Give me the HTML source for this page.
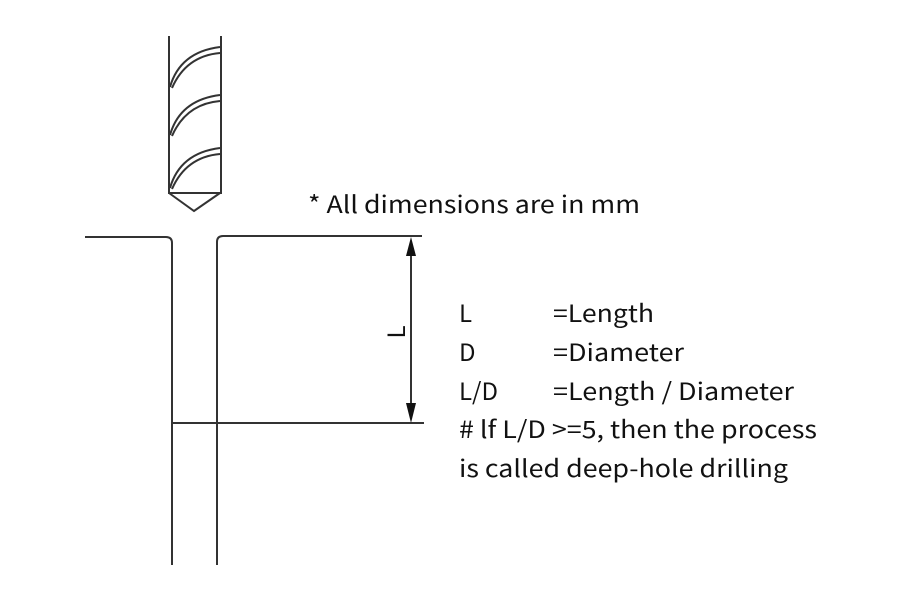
<!DOCTYPE html>
<html><head><meta charset="utf-8"><style>html,body{margin:0;padding:0;background:#fff}svg{display:block}</style></head>
<body>
<svg width="900" height="600" viewBox="0 0 900 600" xmlns="http://www.w3.org/2000/svg">
<g fill="none" stroke="#333" stroke-width="2">
<path d="M169,36 V193 H221 V36"/>
<path d="M169,193 L194,211 L220,193"/>
<g id="f"><path d="M170,87 Q180,52 220,47"/><path d="M172,88 Q186,56 220,53"/></g>
<use href="#f" transform="translate(0,48)"/>
<use href="#f" transform="translate(0,101)"/>
<path d="M85,237 H166 Q172,237 172,243 V565"/>
<path d="M217,565 V242 Q217,236 223,236 H422"/>
<path d="M172,423 H424"/>
<path d="M411,250 V410"/>
</g>
<path d="M411,237 L406,256 H416 Z M411,423 L406,403 H416 Z" fill="#111"/>
<g font-family="'Noto Sans CJK JP', 'Liberation Sans', sans-serif" font-size="24" fill="#111">
<text transform="translate(405,332) rotate(-90)" text-anchor="middle">L</text>
<text x="308" y="213" textLength="332" lengthAdjust="spacingAndGlyphs">*  All dimensions are in mm</text>
<text x="459" y="322">L</text><text x="553" y="322" textLength="101" lengthAdjust="spacingAndGlyphs">=Length</text>
<text x="459" y="361">D</text><text x="553" y="361" textLength="131" lengthAdjust="spacingAndGlyphs">=Diameter</text>
<text x="459" y="400">L/D</text><text x="553" y="400" textLength="241" lengthAdjust="spacingAndGlyphs">=Length / Diameter</text>
<text x="459" y="438" textLength="358" lengthAdjust="spacingAndGlyphs"># lf L/D &gt;=5, then the process</text>
<text x="459" y="477" textLength="329" lengthAdjust="spacingAndGlyphs">is called deep-hole drilling</text>
</g>
</svg>
</body></html>
